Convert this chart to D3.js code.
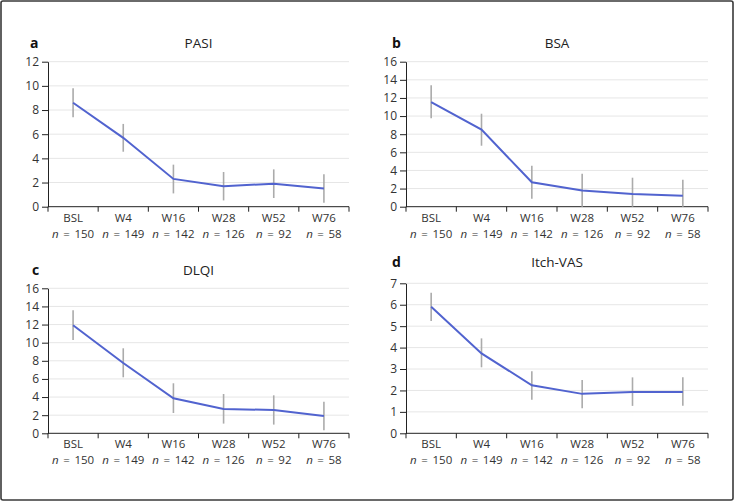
<!DOCTYPE html>
<html>
<head>
<meta charset="utf-8">
<script src="https://cdn.jsdelivr.net/npm/d3@7"></script>
<style>
  body { margin: 0; background: #fff; }
  svg { display: block; font-family: "Open Sans", "Noto Sans", sans-serif; }
</style>
</head>
<body>
<svg id="chart" width="735" height="502"></svg>
<script>
// visits and patient counts
const visits = ["BSL", "W4", "W16", "W28", "W52", "W76"];
const nCounts = [150, 149, 142, 126, 92, 58];

// PASI
const pasiMean = [8.6, 5.7, 2.3, 1.7, 1.9, 1.5];
const pasiLow = [7.4, 4.55, 1.1, 0.52, 0.72, 0.33];
const pasiHigh = [9.8, 6.85, 3.48, 2.87, 3.09, 2.68];

// BSA
const bsaMean = [11.55, 8.5, 2.7, 1.8, 1.4, 1.2];
const bsaLow = [9.75, 6.73, 0.88, 0, 0, 0];
const bsaHigh = [13.39, 10.26, 4.52, 3.64, 3.2, 2.98];

// DLQI
const dlqiMean = [11.92, 7.76, 3.86, 2.68, 2.57, 1.91];
const dlqiLow = [10.3, 6.18, 2.24, 1.07, 0.96, 0.33];
const dlqiHigh = [13.57, 9.38, 5.52, 4.34, 4.19, 3.49];

// Itch-VAS
const vasMean = [5.91, 3.73, 2.24, 1.84, 1.93, 1.93];
const vasLow = [5.24, 3.08, 1.57, 1.17, 1.28, 1.28];
const vasHigh = [6.56, 4.43, 2.89, 2.49, 2.61, 2.61];

const pasiTicks = [0, 2, 4, 6, 8, 10, 12];
const bsaTicks = [0, 2, 4, 6, 8, 10, 12, 14, 16];
const dlqiTicks = [0, 2, 4, 6, 8, 10, 12, 14, 16];
const vasTicks = [0, 1, 2, 3, 4, 5, 6, 7];

const svg = d3.select("#chart");

// outer frame
svg.append("rect")
  .attr("x", 1).attr("y", 1)
  .attr("width", 732).attr("height", 499)
  .attr("rx", 2)
  .attr("fill", "none")
  .attr("stroke", "#3a3a3a")
  .attr("stroke-width", 1.6);

const panels = [
  {letter: "a", title: "PASI", mean: pasiMean, low: pasiLow, high: pasiHigh, ticks: pasiTicks,
   left: 48, right: 349, top: 61.7, bottom: 206.7, titleY: 43, letterX: 30, letterY: 43},
  {letter: "b", title: "BSA", mean: bsaMean, low: bsaLow, high: bsaHigh, ticks: bsaTicks,
   left: 406, right: 708, top: 61.7, bottom: 206.7, titleY: 43, letterX: 392, letterY: 43},
  {letter: "c", title: "DLQI", mean: dlqiMean, low: dlqiLow, high: dlqiHigh, ticks: dlqiTicks,
   left: 48, right: 349, top: 288.3, bottom: 433.3, titleY: 270, letterX: 32, letterY: 270},
  {letter: "d", title: "Itch-VAS", mean: vasMean, low: vasLow, high: vasHigh, ticks: vasTicks,
   left: 406, right: 708, top: 283.3, bottom: 433.3, titleY: 262.5, letterX: 392, letterY: 262}
];

const labelSize = "12px";
const catSize = "11.5px";

panels.forEach(function(p) {
  const g = svg.append("g");

  const x = d3.scaleBand().domain(visits).range([p.left, p.right]);
  const y = d3.scaleLinear().domain([0, d3.max(p.ticks)]).range([p.bottom, p.top]);

  // gridlines
  g.append("g").selectAll("line")
    .data(p.ticks.filter(d => d > 0))
    .enter().append("line")
      .attr("x1", p.left).attr("x2", p.right)
      .attr("y1", d => y(d)).attr("y2", d => y(d))
      .attr("stroke", "#e6e6e6")
      .attr("stroke-width", 1);

  // y axis
  const yAxis = g.append("g")
    .attr("transform", "translate(" + p.left + ",0)")
    .call(d3.axisLeft(y).tickValues(p.ticks).tickFormat(d3.format("d"))
      .tickSize(6).tickPadding(3).tickSizeOuter(0));
  yAxis.attr("font-family", null).attr("font-size", null);
  yAxis.selectAll("text").attr("font-size", labelSize).attr("fill", "#333");
  yAxis.selectAll("line, path").attr("stroke", "#222");

  // x axis: ticks at band edges
  const xAxis = g.append("g");
  xAxis.append("line")
    .attr("x1", p.left).attr("x2", p.right)
    .attr("y1", p.bottom).attr("y2", p.bottom)
    .attr("stroke", "#222");
  const edges = visits.map(v => x(v)).concat([p.right]);
  xAxis.selectAll(".edge").data(edges).enter().append("line")
    .attr("class", "edge")
    .attr("x1", d => d).attr("x2", d => d)
    .attr("y1", p.bottom).attr("y2", p.bottom + 5)
    .attr("stroke", "#222");

  // two-line category label: visit, then n
  const lab = xAxis.selectAll(".xlab").data(visits).enter().append("text")
    .attr("class", "xlab")
    .attr("text-anchor", "middle")
    .attr("font-size", catSize)
    .attr("fill", "#333");
  lab.append("tspan")
    .attr("x", d => x(d) + x.bandwidth() / 2)
    .attr("y", p.bottom + 14.8)
    .text(d => d);
  lab.append("tspan")
    .attr("x", d => x(d) + x.bandwidth() / 2)
    .attr("y", p.bottom + 30.8)
    .attr("word-spacing", "1.6px")
    .attr("font-style", "italic")
    .text("n")
    .append("tspan")
      .attr("font-style", "normal")
      .text((d, i) => " = " + nCounts[i]);

  // error bars
  g.selectAll(".err").data(visits).enter().append("line")
    .attr("class", "err")
    .attr("x1", d => x(d) + x.bandwidth() / 2)
    .attr("x2", d => x(d) + x.bandwidth() / 2)
    .attr("y1", (d, i) => y(p.low[i]))
    .attr("y2", (d, i) => y(p.high[i]))
    .attr("stroke", "#ababab")
    .attr("stroke-width", 1.6);

  // mean line
  const line = d3.line()
    .x((d, i) => x(visits[i]) + x.bandwidth() / 2)
    .y(d => y(d));
  g.append("path")
    .datum(p.mean)
    .attr("d", line)
    .attr("fill", "none")
    .attr("stroke", "#5163cf")
    .attr("stroke-width", 2);

  // title and panel letter
  g.append("text")
    .attr("x", (p.left + p.right) / 2)
    .attr("y", p.titleY)
    .attr("dy", "0.35em")
    .attr("text-anchor", "middle")
    .attr("font-size", "13.5px")
    .attr("fill", "#222")
    .text(p.title);
  g.append("text")
    .attr("x", p.letterX)
    .attr("y", p.letterY)
    .attr("dy", "0.35em")
    .attr("font-size", "14px")
    .attr("font-weight", "bold")
    .attr("fill", "#111")
    .text(p.letter);
});
</script>
</body>
</html>
